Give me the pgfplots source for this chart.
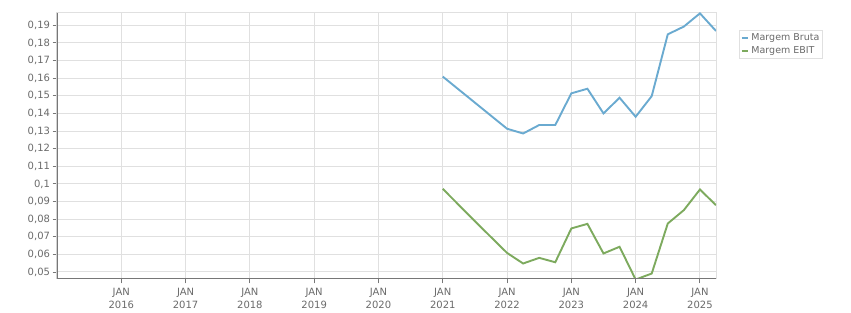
\documentclass[border=0pt]{standalone}
\usepackage{fontspec}
\setmainfont{DejaVu Sans}
\usepackage{pgfplots}
\pgfplotsset{compat=1.18}
\definecolor{bruta}{HTML}{6AAAD0}
\definecolor{ebit}{HTML}{7DAA5E}
\definecolor{txt}{HTML}{6A6A6A}
\definecolor{gridc}{HTML}{E0E0E0}
\definecolor{axc}{HTML}{777777}
\begin{document}
\begin{tikzpicture}
\useasboundingbox (-57pt,-34pt) rectangle (794pt,279pt);
\begin{axis}[
  at={(0,0)}, anchor=south west,
  scale only axis, width=659pt, height=266pt,
  xmin=2015.0, xmax=2025.25,
  ymin=0.046, ymax=0.197,
  xtick={2016,2017,2018,2019,2020,2021,2022,2023,2024,2025},
  xticklabels={JAN\\2016,JAN\\2017,JAN\\2018,JAN\\2019,JAN\\2020,JAN\\2021,JAN\\2022,JAN\\2023,JAN\\2024,JAN\\2025},
  ytick={0.05,0.06,0.07,0.08,0.09,0.1,0.11,0.12,0.13,0.14,0.15,0.16,0.17,0.18,0.19},
  /pgf/number format/assume math mode=true,
  yticklabel style={xshift=1pt, /pgf/number format/.cd, use comma, fixed, precision=2},
  ticklabel style={font=\fontsize{10}{13.4}\selectfont, text=txt},
  xticklabel style={align=center, yshift=-1pt},
  xtick pos=left, ytick pos=left,
  tick align=outside, major tick length=4.5pt,
  tick style={axc, line width=0.9pt},
  grid=major, major grid style={gridc, line width=1pt},
  axis line style={gridc, line width=1pt},
  legend style={at={(1.035,0.936)}, anchor=north west, draw=gridc, line width=0.8pt,
    font=\fontsize{9.5}{12}\selectfont, text=txt, inner sep=1.5pt, row sep=0pt},
  legend cell align=left,
  legend image code/.code={\draw[#1, line width=2pt] (0pt,0pt) -- (6.5pt,0pt);},
]
\addplot[bruta, line width=1.9pt] coordinates {
  (2021.00,0.1609) (2022.00,0.1313) (2022.25,0.1286) (2022.50,0.1334)
  (2022.75,0.1334) (2023.00,0.1514) (2023.25,0.1540) (2023.50,0.1400)
  (2023.75,0.1489) (2024.00,0.1381) (2024.25,0.1498) (2024.50,0.1849)
  (2024.75,0.1893) (2025.00,0.1968) (2025.25,0.1868)
};
\addlegendentry{Margem Bruta}
\addplot[ebit, line width=1.9pt] coordinates {
  (2021.00,0.0972) (2021.50,0.0788) (2022.00,0.0608) (2022.25,0.0548)
  (2022.50,0.0580) (2022.75,0.0555) (2023.00,0.0747) (2023.25,0.0773)
  (2023.50,0.0605) (2023.75,0.0643) (2024.00,0.0457) (2024.25,0.0491)
  (2024.50,0.0775) (2024.75,0.0851) (2025.00,0.0968) (2025.25,0.0879)
};
\addlegendentry{Margem EBIT}
\draw[axc, line width=2.2pt] (rel axis cs:0,0) -- (rel axis cs:1,0);
\draw[axc, line width=1.3pt] (rel axis cs:0,0) -- (rel axis cs:0,1);
\end{axis}
\end{tikzpicture}
\end{document}
